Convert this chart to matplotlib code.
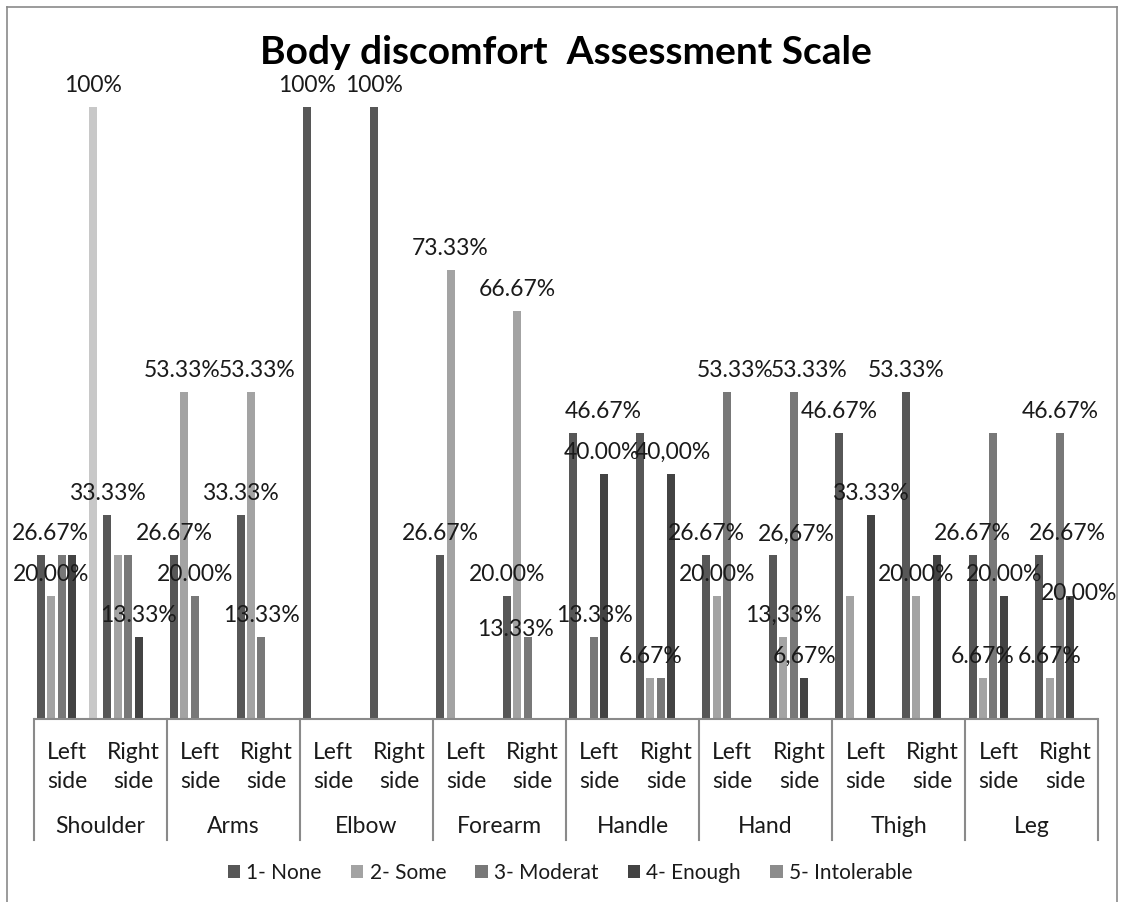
import matplotlib
matplotlib.use("Agg")
import matplotlib.pyplot as plt
import numpy as np
from matplotlib.patches import Patch
from matplotlib.lines import Line2D

# ---- data -------------------------------------------------------------
body_parts = ["Shoulder", "Arms", "Elbow", "Forearm", "Handle", "Hand", "Thigh", "Leg"]
sides = ["Left\nside", "Right\nside"]

series_names = ["1- None", "2- Some", "3- Moderat", "4- Enough", "5- Intolerable"]

# one value per (body part, side): L, R, L, R, ...
none_vals = [26.67, 33.33, 26.67, 33.33, 100, 100, 26.67, 20.00,
             46.67, 46.67, 26.67, 26.67, 46.67, 53.33, 26.67, 26.67]
some_vals = [20.00, 26.67, 53.33, 53.33, 0, 0, 73.33, 66.67,
             0, 6.67, 20.00, 13.33, 20.00, 20.00, 6.67, 6.67]
moderat_vals = [26.67, 26.67, 20.00, 13.33, 0, 0, 0, 13.33,
                13.33, 6.67, 53.33, 53.33, 0, 0, 46.67, 46.67]
enough_vals = [26.67, 13.33, 0, 0, 0, 0, 0, 0,
               40.00, 40.00, 0, 6.67, 33.33, 26.67, 20.00, 20.00]
intolerable_vals = [0, 0, 0, 0, 0, 0, 0, 0,
                    0, 0, 0, 0, 0, 0, 0, 0]
extra_vals = [100, 0, 0, 0, 0, 0, 0, 0,
              0, 0, 0, 0, 0, 0, 0, 0]

all_series = [none_vals, some_vals, moderat_vals, enough_vals, intolerable_vals, extra_vals]
colors = ["#575757", "#a3a3a3", "#787878", "#434343", "#8c8c8c", "#c8c8c8"]

# which bars carry a value label: (category, series, dx px, dy px, decimal comma)
labelled = [
    (0, 0, 10, 0, False), (0, 1, 0, 0, False), (0, 5, 0, 0, False),
    (1, 0, 0, 0, False), (1, 3, 0, 0, False),
    (2, 0, 0, 0, False), (2, 1, -2, 0, False), (2, 2, 0, 0, False),
    (3, 0, 0, 0, False), (3, 1, 6, 0, False), (3, 2, 0, 0, False),
    (4, 0, 0, 0, False), (5, 0, 0, 0, False),
    (6, 0, 0, 0, False), (6, 1, 0, 0, False),
    (7, 0, 0, 0, False), (7, 1, 0, 0, False), (7, 2, -12, -14, False),
    (8, 0, 30, 0, False), (8, 2, 0, 0, False), (8, 3, -3, 0, False),
    (9, 1, 0, 0, False), (9, 3, 2, 0, True),
    (10, 0, 0, 0, False), (10, 1, 0, 0, False), (10, 2, 8, 0, False),
    (11, 0, 23, 0, True), (11, 1, 0, 0, True), (11, 2, 15, 0, False), (11, 3, 0, 0, True),
    (12, 0, 0, 0, False), (12, 3, 0, 0, False),
    (13, 0, 0, 0, False), (13, 1, 0, 0, False),
    (14, 0, 0, 0, False), (14, 1, 0, 0, False), (14, 3, 0, 0, False),
    (15, 0, 28, 0, False), (15, 1, 0, 0, False), (15, 2, 0, 0, False), (15, 3, 8.5, -19, False),
]

# ---- figure -----------------------------------------------------------
W, H = 1122, 902
fig = plt.figure(figsize=(W / 100, H / 100), dpi=100)
FONT = "Lato"
TXT = "#1a1a1a"

ax_left, ax_right = 33.6, 1098.4
ax_base, ax_top = 718.5, 45.85
ax = fig.add_axes([ax_left / W, 1 - ax_base / H,
                   (ax_right - ax_left) / W, (ax_base - ax_top) / H])
ax.set_xlim(-0.5, len(none_vals) - 0.5)
ax.set_ylim(0, 110)
ax.axis("off")

slot = 10.4 / 66.55
first = -0.5 + 7.27 / 66.55
bar_w = 8.0 / 66.55
x = np.arange(len(none_vals))

for k, (vals, col) in enumerate(zip(all_series, colors)):
    ax.bar(x + first + k * slot, vals, width=bar_w, color=col, linewidth=0)

def fmt(v, comma):
    s = "100%" if v >= 100 else f"{v:.2f}%"
    return s.replace(".", ",") if comma else s

for cat, s, dx, dy, comma in labelled:
    v = all_series[s][cat]
    ax.annotate(fmt(v, comma), xy=(cat + first + s * slot, v),
                xytext=(dx, 15 + dy), textcoords="offset pixels",
                ha="center", va="baseline", fontsize=16.5,
                family=FONT, color=TXT, annotation_clip=False)

# category axis
tr = ax.get_xaxis_transform()
def yfrac(py):
    return (ax_base - py) / (ax_base - ax_top)

axis_col = "#8a8a8a"
ax.plot([-0.5, len(none_vals) - 0.5], [0, 0], color=axis_col, lw=1.5,
        clip_on=False, solid_capstyle="butt")
for b in range(len(body_parts) + 1):
    xb = -0.5 + 2 * b
    ax.plot([xb, xb], [0, yfrac(840)], transform=tr, color=axis_col,
            lw=1.5, clip_on=False)

for i in range(len(none_vals)):
    top, bottom = sides[i % 2].split("\n")
    ax.text(i, yfrac(759), top, transform=tr, ha="center", va="baseline",
            fontsize=16.5, family=FONT, color=TXT)
    ax.text(i, yfrac(788), bottom, transform=tr, ha="center", va="baseline",
            fontsize=16.5, family=FONT, color=TXT)
for b, name in enumerate(body_parts):
    ax.text(2 * b + 0.5, yfrac(833), name, transform=tr, ha="center",
            va="baseline", fontsize=16.5, family=FONT, color=TXT)

# title
fig.text(566 / W, 1 - 64 / H, "Body discomfort  Assessment Scale",
         ha="center", va="baseline", fontsize=28, fontweight="bold",
         family=FONT, color="#000000")

# legend
handles = [Patch(facecolor=c, edgecolor="none") for c in colors[:5]]
fig.legend(handles, series_names, loc="center", bbox_to_anchor=(570 / W, 1 - 873 / H),
           ncol=5, frameon=False, prop={"family": FONT, "size": 15},
           handlelength=0.6, handleheight=0.6, handletextpad=0.3,
           columnspacing=1.4, labelcolor=TXT)

# chart area border
bc = "#8a8a8a"
for xs, ys in [([7, 7], [7, 905]), ([7, 1117], [7, 7]), ([1117, 1117], [7, 905])]:
    fig.add_artist(Line2D([v / W for v in xs], [1 - v / H for v in ys],
                          color=bc, lw=1.2, transform=fig.transFigure))

fig.savefig("out.png", dpi=100)
